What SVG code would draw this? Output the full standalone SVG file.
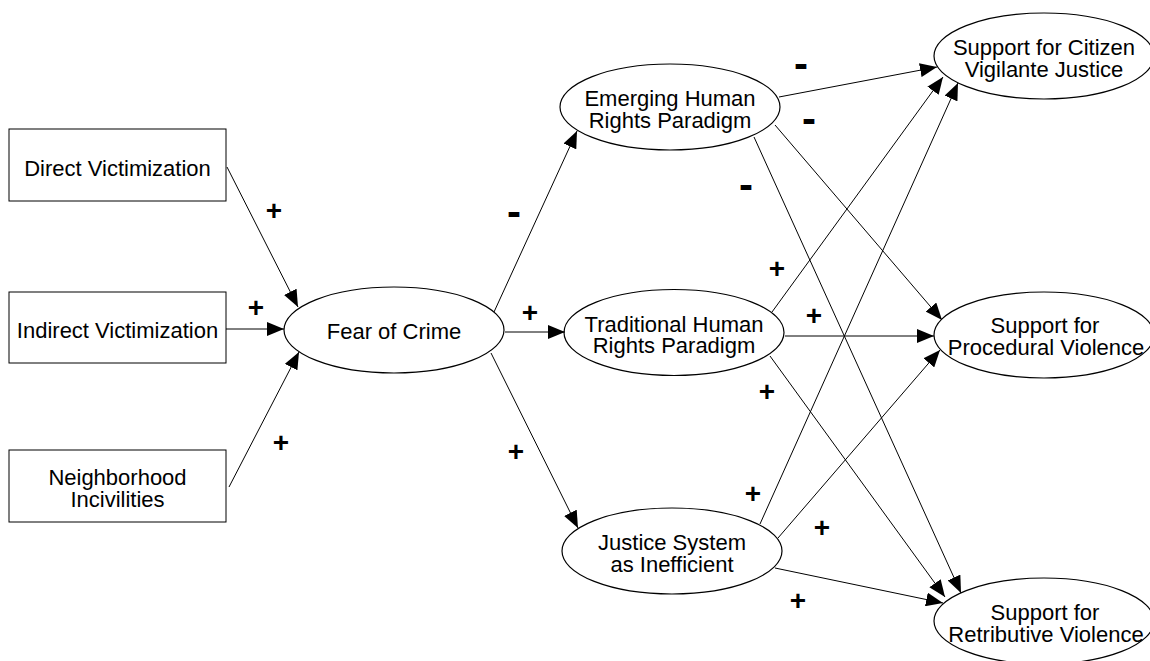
<svg xmlns="http://www.w3.org/2000/svg" width="1150" height="661" viewBox="0 0 1150 661">
<style>
.box{fill:#fff;stroke:#000;stroke-width:1}
.ell{fill:#fff;stroke:#000;stroke-width:1.2}
.t{font-family:"Liberation Sans",Arial,sans-serif;font-size:22px;text-anchor:middle;fill:#000}
.p{font-family:"Liberation Sans",Arial,sans-serif;font-size:28px;font-weight:bold;text-anchor:middle;fill:#000}
.m{font-family:"Liberation Sans",Arial,sans-serif;font-size:42px;font-weight:bold;text-anchor:middle;fill:#000}
.c line{stroke:#000;stroke-width:1;marker-end:url(#ah)}
</style>
<defs>
<marker id="ah" markerUnits="userSpaceOnUse" markerWidth="18" markerHeight="14" refX="17" refY="7" orient="auto">
<path d="M0,0 L17,7 L0,14 z" fill="#000"/>
</marker>
</defs>
<rect width="1150" height="661" fill="#fff"/>
<g id="direct"><rect class="box" x="9" y="129" width="217" height="72"/><text class="t" x="117.5" y="176">Direct Victimization</text></g>
<g id="indirect"><rect class="box" x="9" y="292" width="217" height="71"/><text class="t" x="117.5" y="338">Indirect Victimization</text></g>
<g id="neighborhood"><rect class="box" x="9" y="450" width="217" height="72"/><text class="t" x="117.5" y="485">Neighborhood</text><text class="t" x="117.5" y="507">Incivilities</text></g>
<g id="fear"><ellipse class="ell" cx="394" cy="330" rx="110" ry="43"/><text class="t" x="394" y="339">Fear of Crime</text></g>
<g id="emerging"><ellipse class="ell" cx="670" cy="107" rx="110" ry="43"/><text class="t" x="670" y="106">Emerging Human</text><text class="t" x="670" y="128">Rights Paradigm</text></g>
<g id="traditional"><ellipse class="ell" cx="674" cy="332.5" rx="110" ry="43"/><text class="t" x="674" y="332">Traditional Human</text><text class="t" x="674" y="353">Rights Paradigm</text></g>
<g id="justice"><ellipse class="ell" cx="672" cy="551" rx="110" ry="43"/><text class="t" x="672" y="550">Justice System</text><text class="t" x="672" y="572">as Inefficient</text></g>
<g id="vigilante"><ellipse class="ell" cx="1044" cy="56" rx="110" ry="43"/><text class="t" x="1044" y="55">Support for Citizen</text><text class="t" x="1044" y="77">Vigilante Justice</text></g>
<g id="procedural"><ellipse class="ell" cx="1044" cy="335" rx="110" ry="43"/><text class="t" x="1045" y="333">Support for</text><text class="t" x="1046" y="355">Procedural Violence</text></g>
<g id="retributive"><ellipse class="ell" cx="1044" cy="621" rx="110" ry="43"/><text class="t" x="1045" y="620">Support for</text><text class="t" x="1046" y="642">Retributive Violence</text></g>
<g id="connectors" class="c">
<line x1="227" y1="167" x2="298" y2="307"/>
<line x1="226" y1="329" x2="284" y2="329"/>
<line x1="229" y1="487" x2="299" y2="352"/>
<line x1="494" y1="312" x2="577" y2="131"/>
<line x1="505" y1="332" x2="565" y2="332"/>
<line x1="491" y1="353" x2="578" y2="528"/>
<line x1="779" y1="97" x2="937" y2="67"/>
<line x1="775" y1="125" x2="942" y2="320"/>
<line x1="754" y1="137" x2="961" y2="593"/>
<line x1="772" y1="312" x2="943" y2="77"/>
<line x1="785" y1="336" x2="934" y2="336"/>
<line x1="770" y1="356" x2="945" y2="597"/>
<line x1="760" y1="524" x2="958" y2="83"/>
<line x1="778" y1="538" x2="940" y2="350"/>
<line x1="775" y1="568" x2="943" y2="603"/>
</g>
<g id="labels">
<text class="p" x="274" y="220">+</text>
<text class="p" x="256" y="317">+</text>
<text class="p" x="281" y="452">+</text>
<text class="m" x="514" y="226">-</text>
<text class="p" x="530" y="322">+</text>
<text class="p" x="516" y="461">+</text>
<text class="m" x="801" y="78">-</text>
<text class="m" x="809" y="133">-</text>
<text class="m" x="746" y="199">-</text>
<text class="p" x="777" y="278">+</text>
<text class="p" x="814" y="325">+</text>
<text class="p" x="767" y="401">+</text>
<text class="p" x="753" y="503">+</text>
<text class="p" x="822" y="537">+</text>
<text class="p" x="798" y="610">+</text>
</g>
</svg>
